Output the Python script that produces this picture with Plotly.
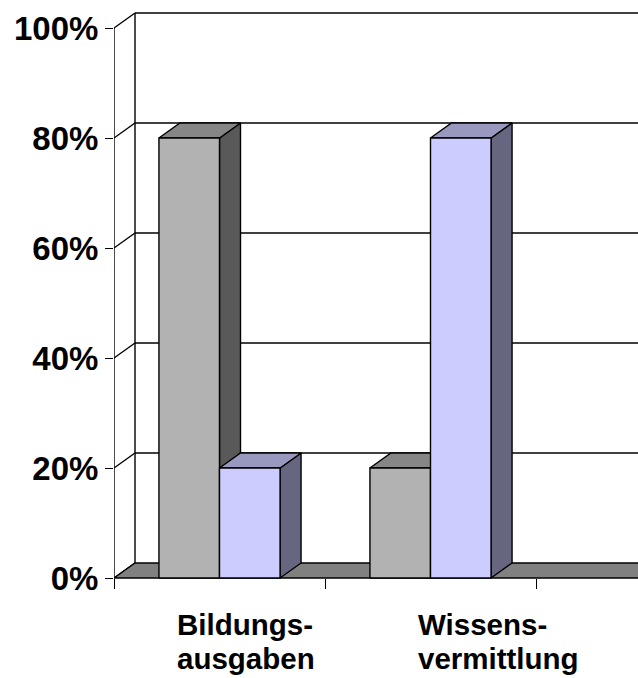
import plotly.graph_objects as go

# ---- data ----
categories = [["Bildungs-", "ausgaben"], ["Wissens-", "vermittlung"]]
series_a = [80, 20]   # grey series (%)
series_b = [20, 80]   # lavender series (%)
y_ticks = [0, 20, 40, 60, 80, 100]
y_tick_labels = ["0%", "20%", "40%", "60%", "80%", "100%"]

# ---- style / geometry ----
W_FIG, H_FIG = 638, 678
PX_PER_CAT = 211.0
PX_PER_PCT = 5.5
LEFT = 114
BASE_PX = 578
DX = 21 / PX_PER_CAT          # depth offset in category units
DY = 15 / PX_PER_PCT          # depth offset in percent units
XMAX = (W_FIG - LEFT) / PX_PER_CAT
YMIN = -(H_FIG - BASE_PX) / PX_PER_PCT
YMAX = BASE_PX / PX_PER_PCT
GAP = 0.213
BW = (1 - 2 * GAP) / 2
LW = 1.4

colors = [
    dict(front="#B2B2B2", top="#868686", side="#595959"),
    dict(front="#CCCCFF", top="#9999BF", side="#666680"),
]
FONT = "Arial, Liberation Sans, sans-serif"

fig = go.Figure()


def line(xs, ys):
    fig.add_trace(go.Scatter(x=xs, y=ys, mode="lines",
                             line=dict(color="black", width=LW),
                             hoverinfo="skip", showlegend=False))


def poly(xs, ys, fill):
    fig.add_trace(go.Scatter(x=xs + [xs[0]], y=ys + [ys[0]], mode="lines",
                             fill="toself", fillcolor=fill,
                             line=dict(color="black", width=LW),
                             hoverinfo="skip", showlegend=False))


# side wall diagonals and back wall gridlines
for v in y_ticks:
    line([0, DX], [v, v + DY])
    if v > 0:
        line([DX, XMAX + 1], [v + DY, v + DY])
# back wall vertical edge and front axis line
line([DX, DX], [DY, y_ticks[-1] + DY])
line([0, 0], [0, y_ticks[-1]])

# floor
poly([0, XMAX + 1, XMAX + 1 + DX, DX], [0, 0, DY, DY], "#808080")

# bars
for i in range(len(categories)):
    for j, vals in enumerate([series_a, series_b]):
        h = vals[i]
        x0 = i + GAP + j * BW
        x1 = x0 + BW
        c = colors[j]
        poly([x1, x1 + DX, x1 + DX, x1], [0, DY, h + DY, h], c["side"])
        poly([x0, x1, x1 + DX, x0 + DX], [h, h, h + DY, h + DY], c["top"])
        poly([x0, x1, x1, x0], [0, 0, h, h], c["front"])

# category labels (left aligned, two lines)
label_x = [0.292, 1.438]
for lx, lab in zip(label_x, categories):
    for k, txt in enumerate(lab):
        fig.add_annotation(x=lx, y=0, text=txt, showarrow=False,
                           xanchor="left", yanchor="top", align="left",
                           borderpad=0, yshift=-29 - 33.5 * k,
                           font=dict(family=FONT, size=29.5, color="black",
                                     weight="bold"))

fig.update_layout(
    width=W_FIG, height=H_FIG,
    margin=dict(l=LEFT, r=0, t=0, b=0),
    paper_bgcolor="white", plot_bgcolor="white",
    hovermode=False,
    xaxis=dict(range=[0, XMAX], showgrid=False, zeroline=False,
               showline=False, tickvals=list(range(len(categories) + 1)),
               ticks="outside", ticklen=10, tickcolor="black", tickwidth=LW,
               showticklabels=False, anchor="free",
               position=(0 - YMIN) / (YMAX - YMIN), fixedrange=True),
    yaxis=dict(range=[YMIN, YMAX], showgrid=False, zeroline=False,
               showline=False, tickvals=y_ticks, ticktext=y_tick_labels,
               ticks="outside", ticklen=8, tickcolor="black", tickwidth=LW,
               tickfont=dict(family=FONT, size=33, color="black",
                             weight="bold"), fixedrange=True),
)

fig.write_html("out.html")
